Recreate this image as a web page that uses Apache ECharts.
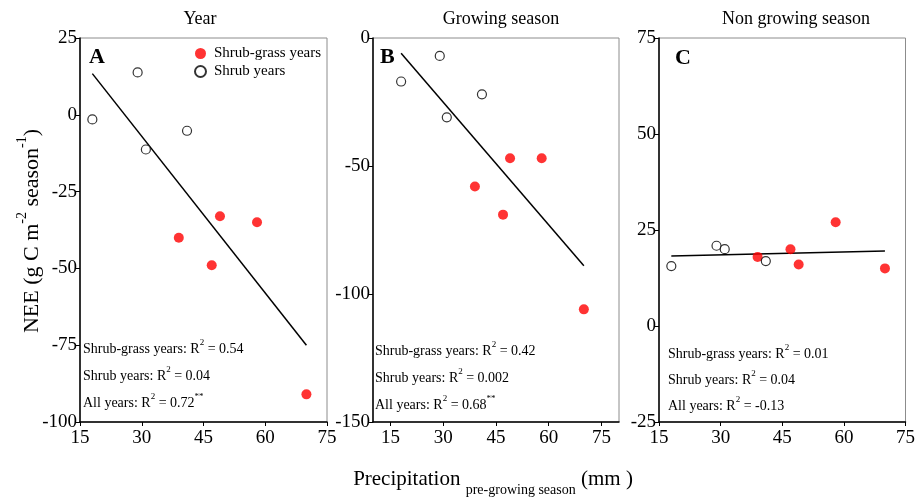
<!DOCTYPE html>
<html>
<head>
<meta charset="utf-8">
<script src="https://cdn.jsdelivr.net/npm/echarts@6/dist/echarts.min.js"></script>
<style>
html,body{margin:0;padding:0;background:#fff;}
#chart{width:918px;height:497px;}
</style>
</head>
<body>
<div id="chart"></div>
<script>
// ---- data ----
var panelTitles = ['Year', 'Growing season', 'Non growing season'];
var panelLetters = ['A', 'B', 'C'];
var shrubX = [18, 29, 31, 41];
var shrubGrassX = [39, 47, 49, 58, 70];
var shrubY_A = [-1.5, 13.8, -11.3, -5.2];
var shrubGrassY_A = [-40, -49, -33, -35, -91];
var shrubY_B = [-17, -7, -31, -22];
var shrubGrassY_B = [-58, -69, -47, -47, -106];
var shrubY_C = [15.6, 20.9, 20.0, 16.9];
var shrubGrassY_C = [18, 20, 16, 27, 15];
var fitX = [18, 70];
var fitY_A = [13.4, -75];
var fitY_B = [-6, -89];
var fitY_C = [18.2, 19.5];
var xTicks = [15, 30, 45, 60, 75];
var yAxisA = {min: -100, max: 25, interval: 25};
var yAxisB = {min: -150, max: 0, interval: 50};
var yAxisC = {min: -25, max: 75, interval: 25};
var r2A = ['0.54', '0.04', '0.72'];
var r2B = ['0.42', '0.002', '0.68'];
var r2C = ['0.01', '0.04', '-0.13'];
var sigA = '**', sigB = '**', sigC = '';

function pairs(xs, ys) { return xs.map(function (x, i) { return [x, ys[i]]; }); }

var FONT = '"Liberation Serif", "Times New Roman", serif';
var chart = echarts.init(document.getElementById('chart'));

var grids = [
  {left: 80, top: 38, width: 247, height: 384},
  {left: 373, top: 38, width: 246, height: 384},
  {left: 659, top: 38, width: 248, height: 384}
];
grids.forEach(function (g) { g.show = true; g.borderColor = '#8c8c8c'; g.borderWidth = 1; g.containLabel = false; });

function xAxis(i, min, max, custom) {
  var ax = {
    type: 'value', gridIndex: i, min: min, max: max,
    axisLine: {show: true, onZero: false, lineStyle: {color: '#000', width: 1.5}},
    axisTick: {show: true, length: 4, lineStyle: {color: '#000', width: 1}},
    axisLabel: {color: '#000', fontFamily: FONT, fontSize: 19, margin: 7},
    splitLine: {show: false}
  };
  if (custom) {
    ax.axisLabel.customValues = xTicks;
    ax.axisTick.customValues = xTicks;
  } else {
    ax.interval = 15;
  }
  return ax;
}
function yAxis(i, spec) {
  return {
    type: 'value', gridIndex: i, min: spec.min, max: spec.max, interval: spec.interval,
    axisLine: {show: true, onZero: false, lineStyle: {color: '#000', width: 1.5}},
    axisTick: {show: true, length: 4, lineStyle: {color: '#000', width: 1}},
    axisLabel: {color: '#000', fontFamily: FONT, fontSize: 19, margin: 3},
    splitLine: {show: false}
  };
}

var hollowStyle = {color: '#fff', borderColor: '#000', borderWidth: 1.2};
var redStyle = {color: '#ff0000', borderColor: '#ff0000', borderWidth: 0};

function panelSeries(i, sy, sgy, fy) {
  return [
    {name: 'fit' + i, type: 'line', xAxisIndex: i, yAxisIndex: i, data: pairs(fitX, fy),
     showSymbol: false, symbol: 'none', lineStyle: {color: '#000', width: 1.5}, z: 2, silent: true},
    {name: 'Shrub-grass years', type: 'scatter', xAxisIndex: i, yAxisIndex: i, symbol: 'circle',
     symbolSize: 10, data: pairs(shrubGrassX, sgy), itemStyle: redStyle, z: 3},
    {name: 'Shrub years', type: 'scatter', xAxisIndex: i, yAxisIndex: i, symbol: 'circle',
     symbolSize: 9, data: pairs(shrubX, sy), itemStyle: hollowStyle, z: 3}
  ];
}

var series = [].concat(
  panelSeries(0, shrubY_A, shrubGrassY_A, fitY_A),
  panelSeries(1, shrubY_B, shrubGrassY_B, fitY_B),
  panelSeries(2, shrubY_C, shrubGrassY_C, fitY_C)
);

var richStyles = {
  n: {fontFamily: FONT, fontSize: 14, lineHeight: 18, verticalAlign: 'bottom', fill: '#000', color: '#000'},
  s: {fontFamily: FONT, fontSize: 9, lineHeight: 18, verticalAlign: 'top', fill: '#000', color: '#000'}
};

function annot(x, ys, r2, sig) {
  var lines = [
    '{n|Shrub-grass years: R}{s|2}{n| = ' + r2[0] + '}',
    '{n|Shrub years: R}{s|2}{n| = ' + r2[1] + '}',
    '{n|All years: R}{s|2}{n| = ' + r2[2] + '}' + (sig ? '{s|' + sig + '}' : '')
  ];
  return lines.map(function (t, k) {
    return {type: 'text', left: x, top: ys[k] - 10, z: 10,
      style: {text: t, rich: richStyles, fill: '#000'}};
  });
}

var titleX = [200, 501, 796];
var letterPos = [[89, 46], [380, 46], [675, 47]];
var graphics = [];
panelTitles.forEach(function (t, i) {
  graphics.push({type: 'text', x: titleX[i], y: 19, z: 10,
    style: {text: t, font: '18px ' + FONT, fill: '#000', align: 'center', verticalAlign: 'middle'}});
  graphics.push({type: 'text', x: letterPos[i][0], y: letterPos[i][1], z: 10,
    style: {text: panelLetters[i], font: 'bold 22px ' + FONT, fill: '#000'}});
});
graphics = graphics.concat(annot(83, [348, 375, 402], r2A, sigA));
graphics = graphics.concat(annot(375, [350, 377, 404], r2B, sigB));
graphics = graphics.concat(annot(668, [353, 379, 405], r2C, sigC));

// y-axis name (rotated)
graphics.push({type: 'text', x: 29, y: 231, rotation: Math.PI / 2, z: 10,
  style: {
    text: '{a|NEE (g C m}{b|-2}{a| season}{b|-1}{a|)}',
    align: 'center', verticalAlign: 'middle',
    rich: {
      a: {fontFamily: FONT, fontSize: 22, lineHeight: 28, verticalAlign: 'bottom', fill: '#000', color: '#000'},
      b: {fontFamily: FONT, fontSize: 14, lineHeight: 28, verticalAlign: 'top', fill: '#000', color: '#000'}
    }
  }});
// x-axis name
graphics.push({type: 'text', x: 493, y: 483, z: 10,
  style: {
    text: '{a|Precipitation }{b|pre-growing season}{a| (mm )}',
    align: 'center', verticalAlign: 'middle',
    rich: {
      a: {fontFamily: FONT, fontSize: 21, lineHeight: 28, verticalAlign: 'top', fill: '#000', color: '#000'},
      b: {fontFamily: FONT, fontSize: 14, lineHeight: 28, verticalAlign: 'bottom', fill: '#000', color: '#000'}
    }
  }});

var option = {
  animation: false,
  backgroundColor: '#fff',
  grid: grids,
  xAxis: [xAxis(0, 15, 75, false), xAxis(1, 10, 80, true), xAxis(2, 15, 75, false)],
  yAxis: [yAxis(0, yAxisA), yAxis(1, yAxisB), yAxis(2, yAxisC)],
  legend: {
    data: ['Shrub-grass years', 'Shrub years'],
    orient: 'vertical', left: 189, top: 41, itemGap: 3,
    itemWidth: 11, itemHeight: 11,
    textStyle: {fontFamily: FONT, fontSize: 15, color: '#000', padding: [0, 0, 0, 3]},
    selectedMode: false
  },
  series: series,
  graphic: graphics
};
chart.setOption(option);
</script>
</body>
</html>
